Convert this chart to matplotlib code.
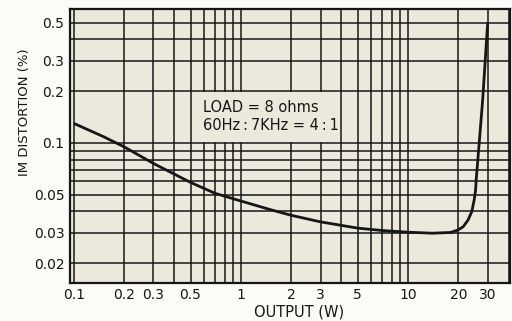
import numpy as np
import matplotlib
matplotlib.use("Agg")
import matplotlib.pyplot as plt
from matplotlib.ticker import FixedLocator, LogLocator, NullFormatter, FixedFormatter
from matplotlib.patches import Rectangle

# Courbe (puissance W, distorsion %)
puissance = [0.1, 0.15, 0.2, 0.3, 0.5, 0.7, 1.0, 1.5, 2, 3, 5, 7, 10, 14, 18,
             19.9, 21.4, 22.9, 24.1, 24.9, 25.4, 25.6, 26.2, 28, 30]
distorsion = [0.13, 0.109, 0.095, 0.076, 0.059, 0.051, 0.046, 0.041, 0.038, 0.0348,
              0.032, 0.031, 0.0303, 0.0299, 0.0302, 0.0312, 0.0326, 0.0357, 0.0399,
              0.0466, 0.0533, 0.061, 0.08, 0.178, 0.5]

x_ticks = [0.1, 0.2, 0.3, 0.5, 1, 2, 3, 5, 10, 20, 30]
x_labels = ["0.1", "0.2", "0.3", "0.5", "1", "2", "3", "5", "10", "20", "30"]
y_ticks = [0.02, 0.03, 0.05, 0.1, 0.2, 0.3, 0.5]
y_labels = ["0.02", "0.03", "0.05", "0.1", "0.2", "0.3", "0.5"]

fond = "#ebe9dc"
encre = "#161616"

fig = plt.figure(figsize=(5.12, 3.21), dpi=100, facecolor="#fbfbf8")
ax = fig.add_axes([70 / 512, 38 / 321, 440 / 512, 274 / 321])
ax.set_facecolor(fond)
ax.set_xscale("log")
ax.set_yscale("log")
ax.set_xlim(0.095, 40.8)
ax.set_ylim(0.01536, 0.6)

ax.xaxis.set_major_locator(FixedLocator(x_ticks))
ax.xaxis.set_major_formatter(FixedFormatter(x_labels))
ax.yaxis.set_major_locator(FixedLocator(y_ticks))
ax.yaxis.set_major_formatter(FixedFormatter(y_labels))
ax.xaxis.set_minor_locator(LogLocator(base=10, subs=np.arange(1, 10)))
ax.yaxis.set_minor_locator(LogLocator(base=10, subs=np.arange(1, 10)))
ax.xaxis.set_minor_formatter(NullFormatter())
ax.yaxis.set_minor_formatter(NullFormatter())
ax.grid(True, which="both", color=encre, lw=1.1)
ax.tick_params(which="both", length=0, labelsize=10, colors=encre)
ax.tick_params(axis="x", pad=3.5)
ax.tick_params(axis="y", pad=4)
for s in ax.spines.values():
    s.set_linewidth(1.6)
    s.set_color(encre)

# cadre de la legende qui masque la grille
ax.add_patch(Rectangle((0.52, 0.1015), 3.85 - 0.52, 0.197 - 0.1015,
                       facecolor=fond, edgecolor="none", zorder=2))
ax.text(0.302, 0.64, "LOAD = 8 ohms", transform=ax.transAxes, fontsize=10.5,
        va="center", ha="left", color=encre, zorder=3)
ax.text(0.302, 0.575, "60Hz\u2009:\u20097KHz = 4\u2009:\u20091", transform=ax.transAxes,
        fontsize=10.5, va="center", ha="left", color=encre, zorder=3)

ax.plot(puissance, distorsion, color=encre, lw=2.0, zorder=4, solid_capstyle="butt")

ax.set_ylabel("IM DISTORTION (%)", fontsize=9.5, color=encre)
ax.yaxis.set_label_coords(-0.089, 0.624)
ax.set_xlabel("OUTPUT (W)", fontsize=10.5, color=encre)
ax.xaxis.set_label_coords(0.52, -0.077)

fig.savefig("out.png", dpi=100, facecolor=fig.get_facecolor())
